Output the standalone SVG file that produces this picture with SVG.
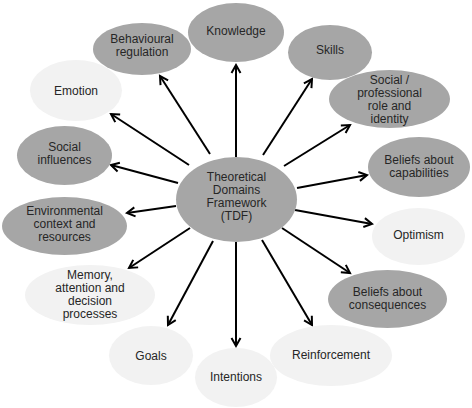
<svg xmlns="http://www.w3.org/2000/svg" width="472" height="408" viewBox="0 0 472 408">
<defs>
<marker id="ah" markerUnits="userSpaceOnUse" markerWidth="14" markerHeight="14" refX="11" refY="7" orient="auto">
<path d="M3,2.5 L11,7 L3,11.5" fill="none" stroke="#000" stroke-width="2"/>
</marker>
<style>
.dk{fill:#a6a6a6}
.lt{fill:#f2f2f2}
text{font-family:"Liberation Sans",Arial,sans-serif;font-size:12px;fill:#262626;text-anchor:middle}
#connectors line{stroke:#000;stroke-width:2;marker-end:url(#ah)}
</style>
</defs>
<rect width="472" height="408" fill="#fff"/>
<g id="connectors">
<line x1="236" y1="157" x2="236" y2="65"/>
<line x1="210" y1="154" x2="160" y2="76"/>
<line x1="189" y1="165" x2="111" y2="114"/>
<line x1="178" y1="183" x2="111" y2="165"/>
<line x1="176" y1="206" x2="127" y2="213"/>
<line x1="190" y1="228" x2="129" y2="268"/>
<line x1="213" y1="241" x2="168" y2="325"/>
<line x1="236" y1="242" x2="236" y2="346"/>
<line x1="262" y1="240" x2="312" y2="325"/>
<line x1="282" y1="228" x2="350" y2="273"/>
<line x1="295" y1="210" x2="372" y2="224"/>
<line x1="297" y1="188" x2="367" y2="175"/>
<line x1="284" y1="166" x2="350" y2="125"/>
<line x1="263" y1="155" x2="312" y2="79"/>
</g>
<g id="tdf"><ellipse class="dk" cx="236.5" cy="199.5" rx="60.5" ry="42.5"/>
<text x="236.5" y="181">Theoretical</text><text x="236.5" y="194">Domains</text><text x="236.5" y="207">Framework</text><text x="236.5" y="220">(TDF)</text></g>
<g id="knowledge"><ellipse class="dk" cx="236" cy="32.5" rx="48" ry="29.5"/><text x="236" y="35">Knowledge</text></g>
<g id="skills"><ellipse class="dk" cx="330" cy="52.5" rx="42" ry="27.5"/><text x="330" y="54">Skills</text></g>
<g id="social-professional"><ellipse class="dk" cx="389.5" cy="99" rx="60.5" ry="29"/>
<text x="389.5" y="84">Social /</text><text x="389.5" y="97">professional</text><text x="389.5" y="110">role and</text><text x="389.5" y="123">identity</text></g>
<g id="capabilities"><ellipse class="dk" cx="419" cy="167" rx="51" ry="30"/>
<text x="419" y="164">Beliefs about</text><text x="419" y="177">capabilities</text></g>
<g id="optimism"><ellipse class="lt" cx="418.5" cy="236.5" rx="46.5" ry="28.5"/><text x="418.5" y="239">Optimism</text></g>
<g id="consequences"><ellipse class="dk" cx="387.5" cy="299" rx="59.5" ry="29"/>
<text x="387.5" y="296">Beliefs about</text><text x="387.5" y="309">consequences</text></g>
<g id="reinforcement"><ellipse class="lt" cx="331" cy="355.5" rx="61" ry="30.5"/><text x="331" y="359">Reinforcement</text></g>
<g id="intentions"><ellipse class="lt" cx="236" cy="377.5" rx="41" ry="29.5"/><text x="236" y="381">Intentions</text></g>
<g id="goals"><ellipse class="lt" cx="151" cy="355.5" rx="42" ry="29.5"/><text x="151" y="360">Goals</text></g>
<g id="memory"><ellipse class="lt" cx="90" cy="295" rx="65" ry="30"/>
<text x="90" y="279">Memory,</text><text x="90" y="292">attention and</text><text x="90" y="305">decision</text><text x="90" y="318">processes</text></g>
<g id="environmental"><ellipse class="dk" cx="64.5" cy="226" rx="62.5" ry="29"/>
<text x="64.5" y="215">Environmental</text><text x="64.5" y="228">context and</text><text x="64.5" y="241">resources</text></g>
<g id="social-influences"><ellipse class="dk" cx="64.5" cy="155.5" rx="47.5" ry="29.5"/>
<text x="64.5" y="151">Social</text><text x="64.5" y="164">influences</text></g>
<g id="emotion"><ellipse class="lt" cx="76" cy="90.5" rx="46" ry="30.5"/><text x="76" y="95">Emotion</text></g>
<g id="behavioural"><ellipse class="dk" cx="142" cy="49" rx="49" ry="26"/>
<text x="142" y="43">Behavioural</text><text x="142" y="56">regulation</text></g>
</svg>
